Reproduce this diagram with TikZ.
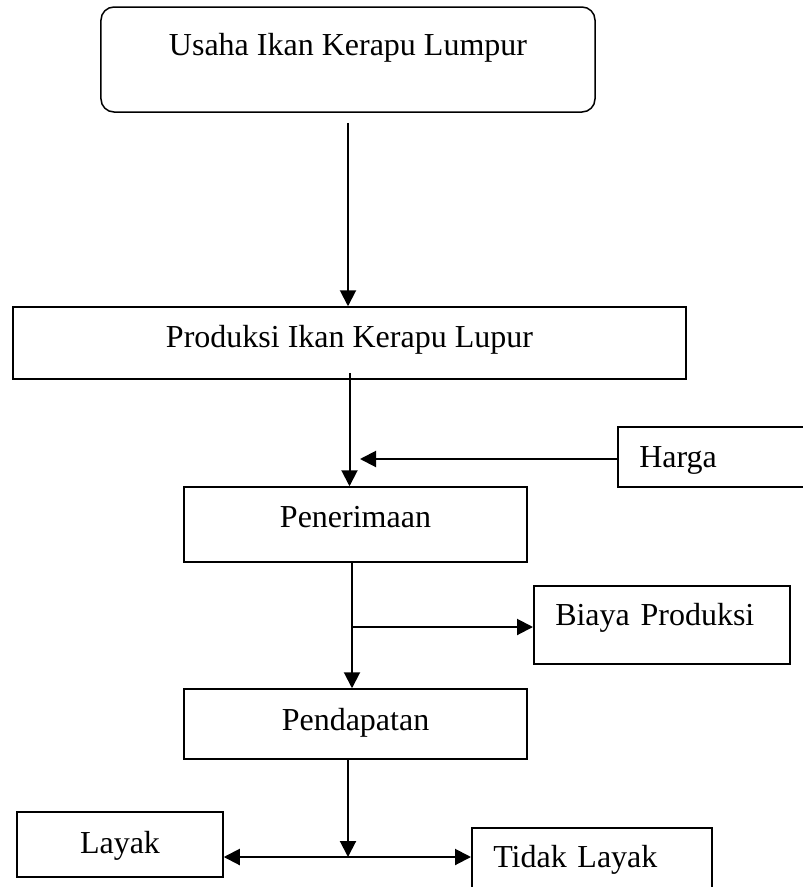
\documentclass[tikz,border=0pt]{standalone}
\usepackage{fontspec}
\setmainfont{Liberation Serif}
\usetikzlibrary{arrows.meta,positioning,calc}

\begin{document}
\begin{tikzpicture}[x=0.4pt, y=-0.4pt,
    every node/.style={font=\fontsize{12.8}{15}\selectfont},
    box/.style={draw, line width=0.6pt, inner sep=0pt, text height=9pt},
    boxkiri/.style={box, inner xsep=8.6pt, align=left},
    panah/.style={-{Triangle[length=6.4pt,width=6.4pt]}, line width=0.8pt}]
    \useasboundingbox (0,0) rectangle (802,887);
    \node[box, rounded corners=5.2pt, minimum width=197.6pt, minimum height=42pt,
          text depth=12.6pt] (usaha) at (348,59.5) {Usaha Ikan Kerapu Lumpur};
    \node[box, minimum width=269.2pt, minimum height=28.8pt,
          text depth=5.8pt] (produksi) at (349.5,343) {Produksi Ikan Kerapu Lupur};
    \node[boxkiri, anchor=west, text width=64.8pt, minimum height=24pt,
          text depth=1pt] (harga) at (617,457) {Harga};
    \node[box, minimum width=137.2pt, minimum height=30pt,
          text depth=7pt] (penerimaan) at (355.5,524.5) {Penerimaan};
    \node[boxkiri, anchor=north west, text width=85.2pt, minimum height=31.2pt,
          text depth=8.2pt] (biaya) at (533,585) {Biaya Produksi};
    \node[box, minimum width=137.2pt, minimum height=28pt,
          text depth=4.2pt] (pendapatan) at (355.5,724) {Pendapatan};
    \node[box, minimum width=82.4pt, minimum height=26pt,
          text depth=2.2pt] (layak) at (120,844.5) {Layak};
    \node[boxkiri, anchor=north west, text width=78.8pt, minimum height=34pt,
          text depth=11pt] (tidak) at (471,827) {Tidak Layak};

    % alur utama
    \draw[panah] ([yshift=-4pt]usaha.south) -- (usaha.south |- produksi.north);
    \draw[panah] ([yshift=2.8pt]produksi.south) -- (produksi.south |- penerimaan.north);
    \coordinate (masukHarga) at (360,459);
    \draw[panah] (harga.west |- masukHarga) -- (masukHarga);
    \coordinate (cabang) at (352,627);
    \draw[panah] (cabang |- penerimaan.south) -- (cabang |- pendapatan.north);
    \draw[panah] (cabang) -- (cabang -| biaya.west);
    % keputusan
    \coordinate (simpang) at (348,857);
    \draw[panah] (simpang |- pendapatan.south) -- (simpang);
    \draw[panah] (simpang) -- (simpang -| layak.east);
    \draw[panah] (simpang) -- (simpang -| tidak.west);
\end{tikzpicture}
\end{document}
